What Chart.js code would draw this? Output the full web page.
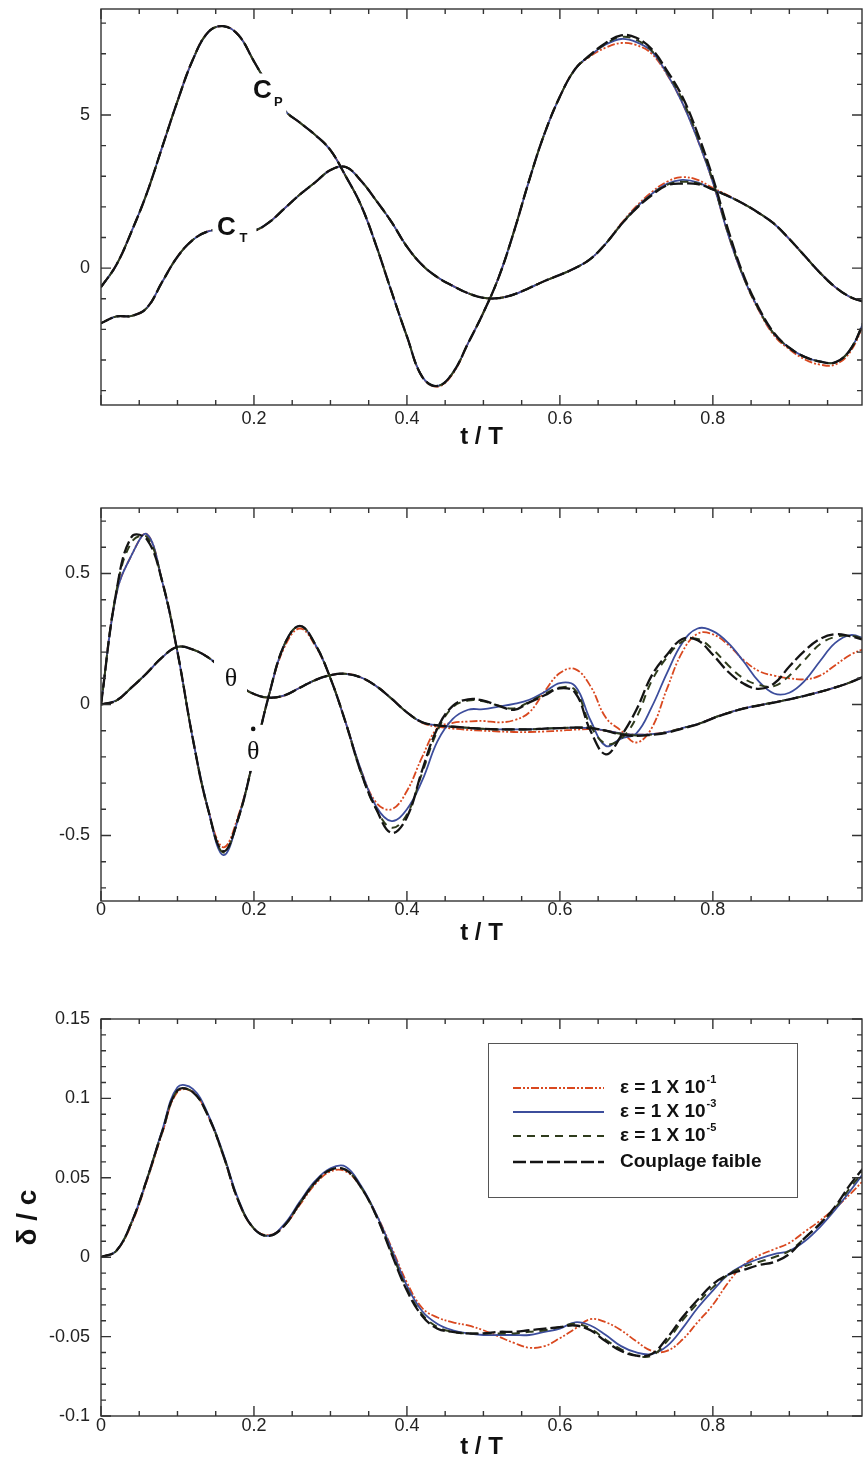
<!DOCTYPE html>
<html>
<head>
<meta charset="utf-8">
<script src="https://cdn.jsdelivr.net/npm/chart.js@4.4.0/dist/chart.umd.min.js"></script>
<style>
  html, body { margin: 0; padding: 0; background: #fff; overflow: hidden; }
  canvas { position: absolute; left: 0; }
</style>
</head>
<body>
<canvas id="forces" style="top:0px" width="863" height="460"></canvas>
<canvas id="pitch" style="top:460px" width="863" height="496"></canvas>
<canvas id="flex" style="top:956px" width="863" height="506"></canvas>
<script>
// t / T samples shared by every curve
const tGrid = [0, 0.02, 0.04, 0.06, 0.08, 0.1, 0.12, 0.14, 0.16, 0.18,
  0.2, 0.22, 0.24, 0.26, 0.28, 0.3, 0.32, 0.34, 0.36, 0.38,
  0.4, 0.42, 0.44, 0.46, 0.48, 0.5, 0.52, 0.54, 0.56, 0.58,
  0.6, 0.62, 0.64, 0.66, 0.68, 0.7, 0.72, 0.74, 0.76, 0.78,
  0.8, 0.82, 0.84, 0.86, 0.88, 0.9, 0.92, 0.94, 0.96, 0.98, 1];

// power coefficient C_P
const cpEps1 = [-0.62, 0.1, 1.2, 2.45, 3.95, 5.45, 6.8, 7.7, 7.9, 7.6,
  6.75, 5.9, 5.15, 4.75, 4.35, 3.85, 3.0, 2.05, 0.72, -0.78,
  -2.23, -3.55, -3.87, -3.45, -2.45, -1.45, -0.3, 1.2, 2.88, 4.4,
  5.6, 6.5, 6.92, 7.2, 7.35, 7.28, 7.0, 6.32, 5.4, 4.2,
  2.8, 1.1, -0.3, -1.38, -2.2, -2.65, -2.98, -3.15, -3.15, -2.72,
  -1.65];
const cpEps3 = [-0.62, 0.1, 1.2, 2.45, 3.95, 5.45, 6.8, 7.7, 7.9, 7.6,
  6.75, 5.9, 5.15, 4.75, 4.35, 3.85, 3.0, 2.05, 0.72, -0.78,
  -2.23, -3.55, -3.85, -3.42, -2.45, -1.45, -0.3, 1.2, 2.88, 4.4,
  5.6, 6.5, 6.95, 7.3, 7.48, 7.38, 7.08, 6.35, 5.4, 4.2,
  2.8, 1.1, -0.3, -1.35, -2.15, -2.6, -2.9, -3.05, -3.08, -2.65,
  -1.6];
const cpEps5 = [-0.62, 0.1, 1.2, 2.45, 3.95, 5.45, 6.8, 7.7, 7.9, 7.6,
  6.75, 5.9, 5.15, 4.75, 4.35, 3.85, 3.0, 2.05, 0.72, -0.78,
  -2.23, -3.55, -3.85, -3.42, -2.45, -1.45, -0.3, 1.2, 2.88, 4.4,
  5.6, 6.5, 6.95, 7.32, 7.55, 7.45, 7.1, 6.4, 5.5, 4.3,
  2.85, 1.15, -0.28, -1.35, -2.15, -2.6, -2.9, -3.05, -3.08, -2.65,
  -1.6];
const cpWeak = [-0.62, 0.1, 1.2, 2.45, 3.95, 5.45, 6.8, 7.7, 7.9, 7.6,
  6.75, 5.9, 5.15, 4.75, 4.35, 3.85, 3.0, 2.05, 0.72, -0.78,
  -2.23, -3.55, -3.85, -3.42, -2.45, -1.45, -0.3, 1.2, 2.88, 4.4,
  5.6, 6.5, 6.97, 7.35, 7.6, 7.52, 7.15, 6.45, 5.6, 4.4,
  2.95, 1.25, -0.22, -1.3, -2.12, -2.6, -2.9, -3.05, -3.08, -2.65,
  -1.6];

// thrust coefficient C_T
const ctEps1 = [-1.8, -1.58, -1.56, -1.3, -0.45, 0.37, 0.92, 1.2, 1.25, 1.22,
  1.22, 1.5, 1.95, 2.4, 2.8, 3.2, 3.3, 2.85, 2.2, 1.5,
  0.7, 0.1, -0.3, -0.58, -0.82, -0.97, -0.98, -0.86, -0.65, -0.42,
  -0.22, 0.0, 0.3, 0.8, 1.45, 2.02, 2.48, 2.82, 2.97, 2.88,
  2.62, 2.37, 2.1, 1.8, 1.45, 0.95, 0.4, -0.15, -0.62, -0.95,
  -1.12];
const ctEps3 = [-1.8, -1.58, -1.56, -1.3, -0.45, 0.37, 0.92, 1.2, 1.25, 1.22,
  1.22, 1.5, 1.95, 2.4, 2.8, 3.2, 3.3, 2.85, 2.2, 1.5,
  0.7, 0.1, -0.3, -0.58, -0.82, -0.97, -0.98, -0.86, -0.65, -0.42,
  -0.22, 0.0, 0.3, 0.8, 1.42, 1.98, 2.42, 2.75, 2.88, 2.8,
  2.57, 2.35, 2.1, 1.8, 1.45, 0.95, 0.4, -0.15, -0.62, -0.95,
  -1.12];
const ctEps5 = [-1.8, -1.58, -1.56, -1.3, -0.45, 0.37, 0.92, 1.2, 1.25, 1.22,
  1.22, 1.5, 1.95, 2.4, 2.8, 3.2, 3.3, 2.85, 2.2, 1.5,
  0.7, 0.1, -0.3, -0.58, -0.82, -0.97, -0.98, -0.86, -0.65, -0.42,
  -0.22, 0.0, 0.3, 0.8, 1.42, 1.96, 2.4, 2.72, 2.82, 2.77,
  2.57, 2.35, 2.1, 1.8, 1.45, 0.95, 0.4, -0.15, -0.62, -0.95,
  -1.12];
const ctWeak = [-1.8, -1.58, -1.56, -1.3, -0.45, 0.37, 0.92, 1.2, 1.25, 1.22,
  1.22, 1.5, 1.95, 2.4, 2.8, 3.2, 3.3, 2.85, 2.2, 1.5,
  0.7, 0.1, -0.3, -0.58, -0.82, -0.97, -0.98, -0.86, -0.65, -0.42,
  -0.22, 0.0, 0.3, 0.8, 1.42, 1.95, 2.38, 2.7, 2.76, 2.74,
  2.57, 2.35, 2.1, 1.8, 1.45, 0.95, 0.4, -0.15, -0.62, -0.95,
  -1.12];

// pitch angle theta
const thetaEps1 = [0, 0.015, 0.065, 0.12, 0.18, 0.22, 0.21, 0.18, 0.13, 0.075,
  0.04, 0.026, 0.035, 0.064, 0.093, 0.112, 0.117, 0.103, 0.07, 0.022,
  -0.03, -0.07, -0.085, -0.092, -0.097, -0.1, -0.103, -0.105, -0.105, -0.103,
  -0.1, -0.096, -0.094, -0.1, -0.11, -0.115, -0.113, -0.105, -0.09, -0.075,
  -0.052, -0.032, -0.015, -0.003, 0.008, 0.02, 0.033, 0.048, 0.065, 0.085,
  0.11];
const thetaEps3 = [0, 0.015, 0.065, 0.12, 0.18, 0.22, 0.21, 0.18, 0.13, 0.075,
  0.04, 0.026, 0.035, 0.064, 0.093, 0.112, 0.117, 0.103, 0.07, 0.022,
  -0.03, -0.068, -0.08, -0.085, -0.089, -0.093, -0.095, -0.095, -0.095, -0.092,
  -0.09, -0.088, -0.09, -0.1, -0.11, -0.115, -0.113, -0.105, -0.09, -0.075,
  -0.052, -0.032, -0.015, -0.003, 0.008, 0.02, 0.033, 0.048, 0.065, 0.085,
  0.11];
const thetaEps5 = [0, 0.015, 0.065, 0.12, 0.18, 0.22, 0.21, 0.18, 0.13, 0.075,
  0.04, 0.026, 0.035, 0.064, 0.093, 0.112, 0.117, 0.103, 0.07, 0.022,
  -0.03, -0.068, -0.08, -0.085, -0.089, -0.093, -0.095, -0.095, -0.095, -0.092,
  -0.09, -0.088, -0.09, -0.1, -0.112, -0.118, -0.115, -0.106, -0.09, -0.075,
  -0.052, -0.032, -0.015, -0.003, 0.008, 0.02, 0.033, 0.048, 0.065, 0.085,
  0.11];
const thetaWeak = [0, 0.015, 0.065, 0.12, 0.18, 0.22, 0.21, 0.18, 0.13, 0.075,
  0.04, 0.026, 0.035, 0.064, 0.093, 0.112, 0.117, 0.103, 0.07, 0.022,
  -0.03, -0.068, -0.08, -0.085, -0.089, -0.093, -0.095, -0.095, -0.095, -0.092,
  -0.09, -0.088, -0.09, -0.1, -0.115, -0.12, -0.116, -0.108, -0.092, -0.076,
  -0.053, -0.033, -0.016, -0.004, 0.007, 0.02, 0.033, 0.048, 0.065, 0.085,
  0.11];

// pitch rate theta-dot
const thetaDotEps1 = [0, 0.42, 0.57, 0.65, 0.47, 0.2, -0.13, -0.4, -0.545, -0.42,
  -0.2, 0.04, 0.22, 0.29, 0.225, 0.1, -0.07, -0.25, -0.375, -0.4,
  -0.33, -0.2, -0.09, -0.07, -0.065, -0.063, -0.068, -0.06, -0.03, 0.05,
  0.12, 0.135, 0.07, -0.05, -0.1, -0.145, -0.09, 0.06, 0.2, 0.27,
  0.268, 0.228, 0.17, 0.128, 0.11, 0.1, 0.096, 0.11, 0.15, 0.19,
  0.215];
const thetaDotEps3 = [0, 0.42, 0.57, 0.65, 0.47, 0.2, -0.13, -0.4, -0.575, -0.43,
  -0.2, 0.04, 0.23, 0.3, 0.23, 0.1, -0.07, -0.25, -0.39, -0.445,
  -0.4, -0.29, -0.14, -0.055, -0.02, -0.018, -0.008, 0.002, 0.018, 0.048,
  0.082, 0.07, -0.06, -0.158, -0.13, -0.11, -0.01, 0.12, 0.235, 0.29,
  0.28, 0.235, 0.165, 0.088, 0.042, 0.045, 0.09, 0.165, 0.235, 0.265,
  0.25];
const thetaDotEps5 = [0, 0.43, 0.62, 0.64, 0.47, 0.2, -0.13, -0.4, -0.565, -0.43,
  -0.2, 0.04, 0.23, 0.3, 0.23, 0.1, -0.07, -0.26, -0.4, -0.47,
  -0.42, -0.26, -0.1, -0.01, 0.015, 0.012, -0.005, -0.015, 0.01, 0.04,
  0.065, 0.055, -0.08, -0.15, -0.13, -0.05, 0.09, 0.18, 0.24, 0.25,
  0.21, 0.15, 0.1, 0.075, 0.07, 0.11, 0.17, 0.23, 0.258, 0.262,
  0.25];
const thetaDotWeak = [0, 0.43, 0.64, 0.63, 0.47, 0.2, -0.13, -0.4, -0.56, -0.43,
  -0.2, 0.04, 0.23, 0.3, 0.23, 0.1, -0.07, -0.26, -0.4, -0.49,
  -0.43, -0.25, -0.09, -0.005, 0.02, 0.015, -0.005, -0.02, 0.008, 0.035,
  0.062, 0.045, -0.1, -0.19, -0.12, -0.02, 0.11, 0.19, 0.25, 0.245,
  0.19, 0.125, 0.08, 0.06, 0.08, 0.145, 0.205, 0.25, 0.268, 0.26,
  0.245];

// tip deflection delta / c
const deflEps1 = [0, 0.004, 0.021, 0.048, 0.078, 0.104, 0.104, 0.089, 0.064, 0.035,
  0.018, 0.014, 0.02, 0.033, 0.046, 0.054, 0.054, 0.044, 0.027, 0.006,
  -0.016, -0.032, -0.038, -0.041, -0.043, -0.046, -0.05, -0.054, -0.057, -0.056,
  -0.051, -0.045, -0.039, -0.041, -0.046, -0.053, -0.059, -0.059, -0.052, -0.041,
  -0.03, -0.016, -0.005, 0.001, 0.005, 0.009, 0.016, 0.023, 0.031, 0.04,
  0.05];
const deflEps3 = [0, 0.004, 0.022, 0.049, 0.08, 0.107, 0.106, 0.09, 0.065, 0.036,
  0.018, 0.0135, 0.021, 0.035, 0.048, 0.056, 0.057, 0.045, 0.027, 0.005,
  -0.018, -0.034, -0.042, -0.046, -0.048, -0.049, -0.049, -0.049, -0.049, -0.047,
  -0.045, -0.041, -0.043, -0.049, -0.056, -0.06, -0.061, -0.056, -0.045, -0.032,
  -0.021, -0.011, -0.005, -0.001, 0.002, 0.004, 0.01, 0.019, 0.03, 0.042,
  0.055];
const deflEps5 = [0, 0.004, 0.022, 0.049, 0.079, 0.105, 0.104, 0.089, 0.064, 0.035,
  0.018, 0.0135, 0.02, 0.034, 0.047, 0.055, 0.055, 0.044, 0.026, 0.003,
  -0.02, -0.036, -0.044, -0.047, -0.048, -0.048, -0.048, -0.048, -0.047, -0.046,
  -0.044, -0.042, -0.045, -0.052, -0.058, -0.062, -0.062, -0.053, -0.04, -0.029,
  -0.019, -0.011, -0.006, -0.003, 0.0, 0.004, 0.012, 0.021, 0.031, 0.044,
  0.056];
const deflWeak = [0, 0.004, 0.022, 0.049, 0.079, 0.105, 0.104, 0.089, 0.064, 0.035,
  0.018, 0.0135, 0.02, 0.034, 0.047, 0.055, 0.055, 0.044, 0.026, 0.002,
  -0.021, -0.037, -0.045, -0.047, -0.048, -0.048, -0.047, -0.047, -0.046, -0.045,
  -0.044, -0.043, -0.046, -0.053, -0.059, -0.062, -0.061, -0.051, -0.038, -0.027,
  -0.017, -0.011, -0.008, -0.005, -0.003, 0.002, 0.012, 0.021, 0.032, 0.046,
  0.058];

// tick labels
const xTicksTop = [0.2, 0.4, 0.6, 0.8];
const xTicks = [0, 0.2, 0.4, 0.6, 0.8];
const cYTicks = [0, 5];
const thetaYTicks = [-0.5, 0, 0.5];
const deflYTicks = [-0.1, -0.05, 0, 0.05, 0.1, 0.15];

// legend text: base + superscript exponent
const legendText = ['ε = 1 X 10', 'ε = 1 X 10', 'ε = 1 X 10', 'Couplage faible'];
const legendExp = ['-1', '-3', '-5', ''];

const SANS = '"Liberation Sans", Arial, Helvetica, sans-serif';
const X_MAX = 0.995;

const seriesStyles = [
  { color: '#d9481f', dash: [8, 2, 2, 2, 2, 2], width: 1.8 },
  { color: '#3c4d9c', dash: [], width: 1.8 },
  { color: '#2f3c1c', dash: [8, 6], width: 2 },
  { color: '#141414', dash: [13, 4], width: 2.3 }
];

function series(values, k) {
  const s = seriesStyles[k];
  return {
    label: legendText[k] + legendExp[k],
    data: tGrid.map((t, i) => ({ x: t, y: values[i] })),
    borderColor: s.color,
    borderDash: s.dash,
    borderWidth: s.width,
    pointRadius: 0,
    fill: false,
    tension: 0.4,
    order: 4 - k
  };
}

// frame with inward ticks on all four sides, plus curve annotations
const frame = {
  id: 'frame',
  afterDatasetsDraw(chart, args, o) {
    const { ctx, chartArea: a } = chart;
    const x = chart.scales.x, y = chart.scales.y;
    ctx.save();
    (o.labels || []).forEach(l => {
      const px = x.getPixelForValue(l.t), py = y.getPixelForValue(l.v);
      ctx.fillStyle = '#fff';
      ctx.fillRect(px + l.gap[0], py + l.gap[1], l.gap[2], l.gap[3]);
      ctx.fillStyle = '#111';
      ctx.textAlign = 'center';
      ctx.textBaseline = 'middle';
      ctx.font = l.font;
      ctx.fillText(l.text, px, py);
      if (l.sub) {
        ctx.font = l.subFont;
        ctx.fillText(l.sub, px + l.subAt[0], py + l.subAt[1]);
      }
      if (l.dot) {
        ctx.beginPath();
        ctx.arc(px + l.dot[0], py + l.dot[1], 2.3, 0, Math.PI * 2);
        ctx.fill();
      }
    });

    ctx.strokeStyle = '#333';
    ctx.lineWidth = 1.4;
    ctx.strokeRect(a.left, a.top, a.right - a.left, a.bottom - a.top);

    const along = (scale, step, major, fn) => {
      const k0 = Math.ceil(scale.min / step - 1e-6), k1 = Math.floor(scale.max / step + 1e-6);
      for (let k = k0; k <= k1; k++) {
        const v = k * step;
        const isMajor = Math.abs(v / major - Math.round(v / major)) < 1e-6;
        fn(scale.getPixelForValue(v), isMajor ? 10 : 5);
      }
    };
    ctx.beginPath();
    along(x, o.xMinor, o.xMajor, (p, len) => {
      ctx.moveTo(p, a.bottom); ctx.lineTo(p, a.bottom - len);
      ctx.moveTo(p, a.top); ctx.lineTo(p, a.top + len);
    });
    along(y, o.yMinor, o.yMajor, (p, len) => {
      ctx.moveTo(a.left, p); ctx.lineTo(a.left + len, p);
      ctx.moveTo(a.right, p); ctx.lineTo(a.right - len, p);
    });
    ctx.stroke();
    ctx.restore();
  }
};

// boxed legend built from the datasets' own line styles
const epsLegend = {
  id: 'epsLegend',
  afterDraw(chart, args, o) {
    if (!o.box) return;
    const { ctx, chartArea: a } = chart;
    const bx = a.left + o.box[0], by = a.top + o.box[1];
    ctx.save();
    ctx.fillStyle = '#fff';
    ctx.fillRect(bx, by, o.box[2], o.box[3]);
    ctx.strokeStyle = '#555';
    ctx.lineWidth = 1;
    ctx.strokeRect(bx + 0.5, by + 0.5, o.box[2], o.box[3]);
    chart.data.datasets.slice(0, 4).forEach((ds, i) => {
      const yy = by + o.rows[i];
      ctx.strokeStyle = ds.borderColor;
      ctx.lineWidth = ds.borderWidth;
      ctx.setLineDash(ds.borderDash);
      ctx.beginPath();
      ctx.moveTo(bx + 25, yy);
      ctx.lineTo(bx + 116, yy);
      ctx.stroke();
      ctx.setLineDash([]);
      ctx.fillStyle = '#111';
      ctx.textAlign = 'left';
      ctx.textBaseline = 'middle';
      ctx.font = 'bold 19px ' + SANS;
      ctx.fillText(legendText[i], bx + 132, yy);
      if (legendExp[i]) {
        const w = ctx.measureText(legendText[i]).width;
        ctx.font = 'bold 11px ' + SANS;
        ctx.fillText(legendExp[i], bx + 133 + w, yy - 8);
      }
    });
    ctx.restore();
  }
};

function makeChart(id, p) {
  return new Chart(document.getElementById(id), {
    type: 'line',
    data: { datasets: p.datasets },
    options: {
      responsive: false,
      animation: false,
      devicePixelRatio: 1,
      layout: { padding: { top: p.padTop, right: 1, left: 0, bottom: 0 } },
      scales: {
        x: {
          type: 'linear', min: 0, max: X_MAX,
          afterFit: s => { s.height = p.xHeight; s.paddingLeft = 0; s.paddingRight = 0; },
          afterBuildTicks: s => { s.ticks = p.xTicks.map(v => ({ value: v })); },
          grid: { display: false, drawTicks: false },
          border: { display: false },
          ticks: {
            padding: p.xPad, color: '#222', maxRotation: 0,
            font: { family: SANS, size: 18, lineHeight: 1 },
            callback: v => String(v)
          },
          title: {
            display: true, text: 't / T', color: '#111',
            font: { family: SANS, size: 24, weight: 'bold', lineHeight: 1 },
            padding: { top: 0, bottom: p.titlePad }
          }
        },
        y: {
          type: 'linear', min: p.yMin, max: p.yMax,
          afterFit: s => { s.width = 101; s.paddingTop = 0; s.paddingBottom = 0; },
          afterBuildTicks: s => { s.ticks = p.yTicks.map(v => ({ value: v })); },
          grid: { display: false, drawTicks: false },
          border: { display: false },
          ticks: {
            padding: 11, color: '#222',
            font: { family: SANS, size: 18, lineHeight: 1 },
            callback: v => String(v)
          },
          title: p.yTitle ? {
            display: true, text: p.yTitle, color: '#111',
            font: { family: SANS, size: 28, weight: 'bold', lineHeight: 1 },
            padding: { top: 14, bottom: 0 }
          } : { display: false }
        }
      },
      plugins: {
        legend: { display: false },
        tooltip: { enabled: false },
        frame: p.frame,
        epsLegend: p.legend || {}
      }
    },
    plugins: [frame, epsLegend]
  });
}

makeChart('forces', {
  datasets: [series(cpEps1, 0), series(cpEps3, 1), series(cpEps5, 2), series(cpWeak, 3),
             series(ctEps1, 0), series(ctEps3, 1), series(ctEps5, 2), series(ctWeak, 3)],
  padTop: 9, xHeight: 55, xPad: 5, titlePad: 11,
  xTicks: xTicksTop, yTicks: cYTicks, yMin: -4.47, yMax: 8.46,
  frame: {
    xMinor: 0.05, xMajor: 0.2, yMinor: 1, yMajor: 5,
    labels: [
      { t: 0.211, v: 5.8, text: 'C', font: 'bold 26px ' + SANS, sub: 'P', subFont: 'bold 13px ' + SANS,
        subAt: [16, 12], gap: [-11, -17, 35, 40] },
      { t: 0.164, v: 1.31, text: 'C', font: 'bold 26px ' + SANS, sub: 'T', subFont: 'bold 13px ' + SANS,
        subAt: [17, 10], gap: [-14, -14, 44, 30] }
    ]
  }
});

makeChart('pitch', {
  datasets: [series(thetaEps1, 0), series(thetaEps3, 1), series(thetaEps5, 2), series(thetaWeak, 3),
             series(thetaDotEps1, 0), series(thetaDotEps3, 1), series(thetaDotEps5, 2), series(thetaDotWeak, 3)],
  padTop: 48, xHeight: 55, xPad: 0, titlePad: 11,
  xTicks: xTicks, yTicks: thetaYTicks, yMin: -0.75, yMax: 0.75,
  frame: {
    xMinor: 0.05, xMajor: 0.2, yMinor: 0.1, yMajor: 0.5,
    labels: [
      { t: 0.17, v: 0.097, text: 'θ', font: '26px "Liberation Serif", "DejaVu Serif", serif',
        gap: [-17, -19, 33, 38] },
      { t: 0.199, v: -0.181, text: 'θ', font: '26px "Liberation Serif", "DejaVu Serif", serif',
        dot: [0, -23], gap: [-10, -27, 20, 46] }
    ]
  }
});

makeChart('flex', {
  datasets: [series(deflEps1, 0), series(deflEps3, 1), series(deflEps5, 2), series(deflWeak, 3)],
  padTop: 63, xHeight: 46, xPad: 1, titlePad: 3,
  xTicks: xTicks, yTicks: deflYTicks, yMin: -0.1, yMax: 0.15,
  yTitle: 'δ / c',
  frame: { xMinor: 0.05, xMajor: 0.2, yMinor: 0.01, yMajor: 0.05, labels: [] },
  legend: { box: [387, 24, 309, 154], rows: [45, 69, 93, 119] }
});
</script>
</body>
</html>
